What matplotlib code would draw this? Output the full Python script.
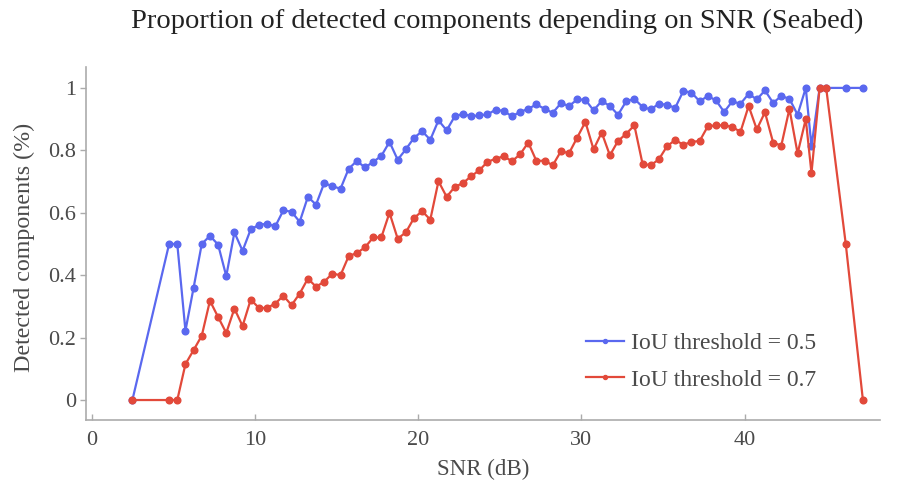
import matplotlib
matplotlib.use("Agg")
import matplotlib.pyplot as plt

plt.rcParams['font.family'] = ['Liberation Serif', 'DejaVu Serif']

# SNR bins (dB)
snr = [2.5, 4.75, 5.25, 5.75, 6.25, 6.75, 7.25, 7.75, 8.25, 8.75, 9.25,
       9.75, 10.25, 10.75, 11.25, 11.75, 12.25, 12.75, 13.25, 13.75, 14.25,
       14.75, 15.25, 15.75, 16.25, 16.75, 17.25, 17.75, 18.25, 18.75, 19.25,
       19.75, 20.25, 20.75, 21.25, 21.75, 22.25, 22.75, 23.25, 23.75, 24.25,
       24.75, 25.25, 25.75, 26.25, 26.75, 27.25, 27.75, 28.25, 28.75, 29.25,
       29.75, 30.25, 30.75, 31.25, 31.75, 32.25, 32.75, 33.25, 33.75, 34.25,
       34.75, 35.25, 35.75, 36.25, 36.75, 37.25, 37.75, 38.25, 38.75, 39.25,
       39.75, 40.25, 40.75, 41.25, 41.75, 42.25, 42.75, 43.25, 43.75, 44.1,
       44.6, 45.0, 46.2, 47.25]

# Proportion of detected components, IoU threshold 0.5
iou_05 = [0.0, 0.50, 0.50, 0.222, 0.36, 0.50, 0.526, 0.498, 0.397, 0.537, 0.478,
          0.547, 0.561, 0.565, 0.556, 0.608, 0.603, 0.571, 0.651, 0.626, 0.695,
          0.685, 0.677, 0.741, 0.766, 0.745, 0.763, 0.782, 0.827, 0.770, 0.803,
          0.840, 0.861, 0.834, 0.896, 0.864, 0.909, 0.917, 0.909, 0.912, 0.915,
          0.930, 0.926, 0.909, 0.923, 0.933, 0.947, 0.933, 0.920, 0.951, 0.942,
          0.963, 0.962, 0.928, 0.958, 0.942, 0.914, 0.957, 0.965, 0.939, 0.931,
          0.949, 0.946, 0.936, 0.990, 0.985, 0.957, 0.974, 0.960, 0.923, 0.957,
          0.949, 0.981, 0.963, 0.992, 0.952, 0.974, 0.965, 0.914, 1.0, 0.813,
          1.0, 1.0, 1.0, 1.0]

# Proportion of detected components, IoU threshold 0.7
iou_07 = [0.0, 0.0, 0.0, 0.115, 0.16, 0.206, 0.318, 0.266, 0.215, 0.293, 0.237,
          0.322, 0.295, 0.295, 0.309, 0.334, 0.304, 0.341, 0.389, 0.363, 0.379,
          0.405, 0.400, 0.461, 0.471, 0.489, 0.521, 0.521, 0.600, 0.517, 0.537,
          0.583, 0.605, 0.578, 0.701, 0.651, 0.683, 0.695, 0.717, 0.736, 0.763,
          0.773, 0.781, 0.765, 0.787, 0.825, 0.766, 0.767, 0.752, 0.797, 0.791,
          0.841, 0.891, 0.803, 0.857, 0.784, 0.830, 0.853, 0.880, 0.757, 0.752,
          0.771, 0.813, 0.833, 0.818, 0.827, 0.830, 0.877, 0.880, 0.880, 0.875,
          0.859, 0.942, 0.867, 0.922, 0.825, 0.815, 0.933, 0.790, 0.900, 0.727,
          1.0, 1.0, 0.5, 0.0]

x_ticks = [0, 10, 20, 30, 40]
y_ticks = [0, 0.2, 0.4, 0.6, 0.8, 1]
y_tick_labels = ['0', '0.2', '0.4', '0.6', '0.8', '1']

blue = '#5a68ef'
red = '#e2493a'
axis_grey = '#ababab'
text_grey = '#4a4a4a'

fig = plt.figure(figsize=(8.98, 4.86), dpi=100)
ax = fig.add_axes([0.0958, 0.1358, 0.8842, 0.727])

ax.plot(snr, iou_05, color=blue, lw=1.6, marker='o', ms=4.8,
        label='IoU threshold = 0.5')
ax.plot(snr, iou_07, color=red, lw=1.6, marker='o', ms=4.8,
        label='IoU threshold = 0.7')

ax.set_xlim(-0.34, 48.3)
ax.set_ylim(-0.064, 1.068)
ax.set_xticks(x_ticks)
ax.set_yticks(y_ticks)
ax.set_yticklabels(y_tick_labels)

for side in ('top', 'right'):
    ax.spines[side].set_visible(False)
for side in ('left', 'bottom'):
    ax.spines[side].set_color(axis_grey)
    ax.spines[side].set_linewidth(1.2)
ax.tick_params(axis='y', direction='out', colors=axis_grey, length=4, width=1,
               labelsize=16, labelcolor=text_grey, pad=3)
ax.tick_params(axis='x', direction='in', colors=axis_grey, length=4, width=1,
               labelsize=16, labelcolor=text_grey, pad=8)

ax.set_xlabel('SNR (dB)', fontsize=16.5, color=text_grey, labelpad=6)
ax.set_ylabel('Detected components (%)', fontsize=17.3, color=text_grey)
ax.yaxis.set_label_coords(-0.064, 0.487)
fig.text(0.554, 0.955,
         'Proportion of detected components depending on SNR (Seabed)',
         fontsize=20.5, color='#222222', ha='center', va='center')

leg = ax.legend(loc='center', bbox_to_anchor=(0.775, 0.165), frameon=False,
                fontsize=17, handlelength=1.6, handletextpad=0.3,
                labelspacing=0.62, markerscale=0.6)
for t in leg.get_texts():
    t.set_color(text_grey)

fig.savefig('out.png', dpi=100)
